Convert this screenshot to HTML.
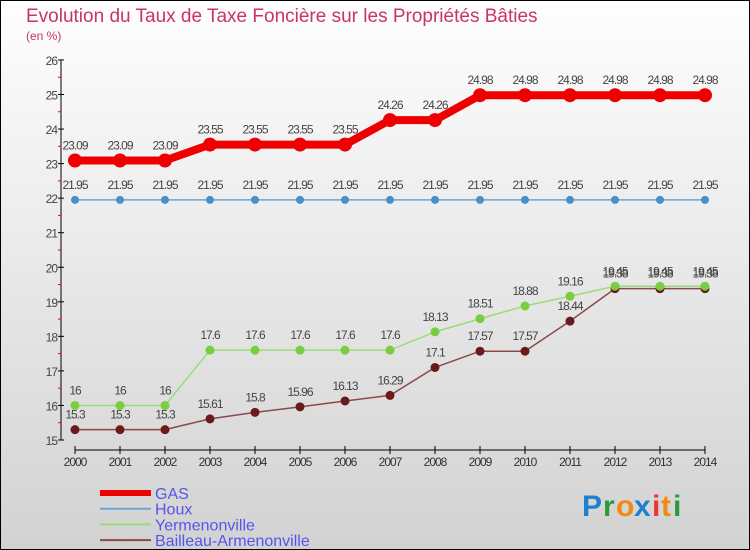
<!DOCTYPE html>
<html><head><meta charset="utf-8"><style>
html,body{margin:0;padding:0}
body{width:750px;height:550px;overflow:hidden}
svg{display:block;font-family:"Liberation Sans",sans-serif}
</style></head><body>
<svg id="chart" width="750" height="550" xmlns="http://www.w3.org/2000/svg">
<defs><linearGradient id="bg" x1="0" y1="0" x2="0" y2="1"><stop offset="0" stop-color="#fefefe"/><stop offset="1" stop-color="#d2d2d2"/></linearGradient></defs>
<rect x="0.5" y="0.5" width="749" height="549" fill="url(#bg)" stroke="#000"/>
<text x="26" y="22" font-size="19" fill="#c8336b">Evolution du Taux de Taxe Foncière sur les Propriétés Bâties</text>
<text x="26" y="40" font-size="12" fill="#c8336b">(en %)</text>
<g id="axes"></g><g id="series"></g><g id="legend"></g>
<g font-size="30" font-weight="bold">
<text x="582" y="516" fill="#1f7fd0">P</text><text x="603" y="516" fill="#2a9a3a">r</text><text x="616" y="516" fill="#f28a12">o</text><text x="634" y="516" fill="#1f7fd0">x</text><text x="652" y="516" fill="#e33">i</text><text x="661" y="516" fill="#f28a12">t</text><text x="673" y="516" fill="#2a9a3a">i</text>
</g>
</svg>
<script>
const years=[2000,2001,2002,2003,2004,2005,2006,2007,2008,2009,2010,2011,2012,2013,2014];
const gas=[23.09,23.09,23.09,23.55,23.55,23.55,23.55,24.26,24.26,24.98,24.98,24.98,24.98,24.98,24.98];
const houx=[21.95,21.95,21.95,21.95,21.95,21.95,21.95,21.95,21.95,21.95,21.95,21.95,21.95,21.95,21.95];
const yerm=[16,16,16,17.6,17.6,17.6,17.6,17.6,18.13,18.51,18.88,19.16,19.45,19.45,19.45];
const bail=[15.3,15.3,15.3,15.61,15.8,15.96,16.13,16.29,17.1,17.57,17.57,18.44,19.38,19.38,19.38];
const yTicks=[15,16,17,18,19,20,21,22,23,24,25,26];
const NS='http://www.w3.org/2000/svg';
const x=i=>75+i*45, y=v=>440-(v-15)*34.55;
function mk(t,a,p){const e=document.createElementNS(NS,t);for(const k in a)e.setAttribute(k,a[k]);p.appendChild(e);return e;}
const ax=document.getElementById('axes');
const yl=mk('line',{x1:61,y1:60,x2:61,y2:440,stroke:'#000'},ax);


yTicks.forEach(v=>{
 mk('line',{x1:58,x2:64,y1:y(v),y2:y(v),stroke:'#000'},ax);
 if(v<26)mk('line',{x1:58,x2:61,y1:y(v+0.5),y2:y(v+0.5),stroke:'#f00'},ax);
 const t=mk('text',{x:57,y:y(v)+5,'text-anchor':'end','font-size':12,fill:'#444','letter-spacing':'-1'},ax);
 t.textContent=v;
 
 
});
const xl=mk('line',{x1:75,y1:450,x2:705,y2:450,stroke:'#000'},ax);


years.forEach((yr,i)=>{
 mk('line',{x1:x(i),x2:x(i),y1:446,y2:454,stroke:'#000'},ax);
 const t=mk('text',{x:x(i),y:466,'text-anchor':'middle','font-size':12,fill:'#333','letter-spacing':'-1'},ax);
 t.textContent=yr;
 
 
});
const S=[
 {n:'houx',d:houx,c:'#4a90c8',w:1.5,r:4,lc:'#6aa6d6'},
 {n:'bailleau-armenonville',d:bail,c:'#6a1a1a',w:1.5,r:4.5,lc:'#8a4a4a'},
 {n:'yermenonville',d:yerm,c:'#7acc40',w:1.5,r:4.5,lc:'#99dd77'},
 {n:'gas',d:gas,c:'#ee0000',w:8,r:7,lc:'#ee0000'}];
const sg=document.getElementById('series');
S.forEach(s=>{
 const g=mk('g',{},sg);
 
 
 const pl=mk('polyline',{points:s.d.map((v,i)=>x(i)+','+y(v)).join(' '),fill:'none',stroke:s.lc,'stroke-width':s.w},g);
 
 
 s.d.forEach((v,i)=>{
  const c=mk('circle',{cx:x(i),cy:y(v),r:s.r,fill:s.c},g);
  
  
  const t=mk('text',{x:x(i),y:y(v)-11,'text-anchor':'middle','font-size':12,fill:'#444','letter-spacing':'-1'},g);
  t.textContent=v;
  
  
 });
});
const lg=document.getElementById('legend');
[['GAS','#ee0000',6,'gas'],['Houx','#6aa6d6',2,'houx'],['Yermenonville','#99dd77',2,'yermenonville'],['Bailleau-Armenonville','#8a4a4a',2,'bailleau-armenonville']].forEach((e,i)=>{
 const yy=493+i*15.7;
 const g=mk('g',{},lg);
 
 
 mk('line',{x1:100,x2:151,y1:yy,y2:yy,stroke:e[1],'stroke-width':e[2]},g);
 const t=mk('text',{x:155,y:yy+6,'font-size':16,fill:'#5555ee'},g);
 t.textContent=e[0];
});
</script>
</body></html>
